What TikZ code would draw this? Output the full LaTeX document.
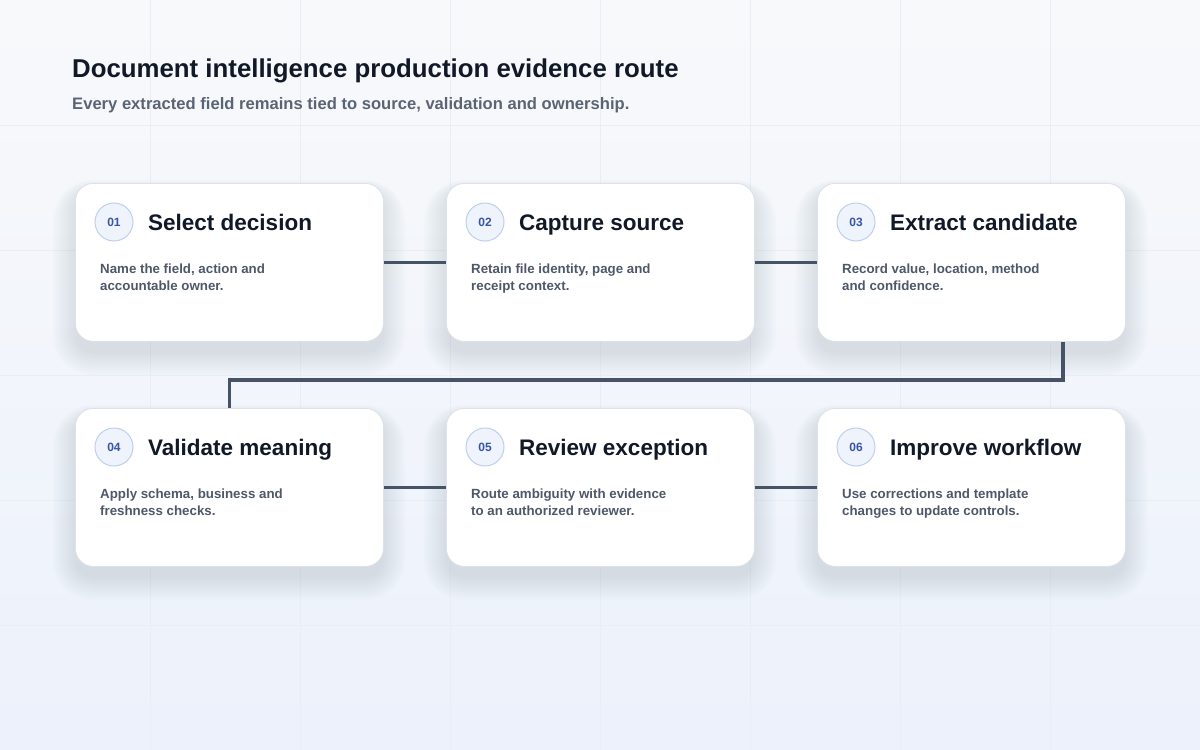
\documentclass[tikz,border=0pt]{standalone}
\usepackage{fontspec}
\setmainfont{Liberation Sans}
\definecolor{bgtop}{HTML}{F8F9FB}
\definecolor{bgbot}{HTML}{ECF1FB}
\definecolor{gridc}{HTML}{E9EDF4}
\definecolor{ink}{HTML}{111827}
\definecolor{subink}{HTML}{5B6474}
\definecolor{descink}{HTML}{4F5869}
\definecolor{numink}{HTML}{3656A6}
\definecolor{numfill}{HTML}{EEF3FC}
\definecolor{numline}{HTML}{BFCFEC}
\definecolor{cardline}{HTML}{DDE2EA}
\definecolor{shadowc}{HTML}{8591B0}
\definecolor{linkc}{HTML}{465366}
\begin{document}
\begin{tikzpicture}[x=1pt,y=-1pt,font=\bfseries,
    card/.style={draw=cardline,line width=0.8pt,fill=white,rounded corners=18pt,
        minimum width=308pt,minimum height=158pt,inner sep=0pt,anchor=north west},
    badge/.style={circle,draw=numline,line width=1pt,fill=numfill,minimum size=38pt,inner sep=0pt,
        text=numink,font=\bfseries\fontsize{12}{14}\selectfont},
    cardtitle/.style={anchor=base west,inner sep=0pt,text=ink,font=\bfseries\fontsize{22.5}{26}\selectfont},
    carddesc/.style={anchor=base west,inner sep=0pt,align=left,text=descink,font=\bfseries\fontsize{13.3}{17}\selectfont},
    link/.style={draw=linkc,line width=3.5pt}]
    \def\cw{308} \def\ch{158}
    \useasboundingbox (0,0) rectangle (1200,750);
    \shade[top color=bgtop,bottom color=bgbot] (0,0) rectangle (1200,750);
    \foreach \gx in {150,300,...,1050}\draw[gridc,line width=0.8pt] (\gx,0)--(\gx,750);
    \foreach \gy in {125,250,...,625}\draw[gridc,line width=0.8pt] (0,\gy)--(1200,\gy);
    %===========================================
    \node[anchor=base west,inner sep=0pt,text=ink,font=\bfseries\fontsize{25.8}{30}\selectfont] (title) at (72,77)
        {Document intelligence production evidence route};
    \node[anchor=base west,inner sep=0pt,text=subink,font=\bfseries\fontsize{16.6}{20}\selectfont] (subtitle) at (72,109)
        {Every extracted field remains tied to source, validation and ownership.};
    %===========================================
    \foreach \n/\x/\y/\t/\d in {
        1/75/183/{Select decision}/{Name the field, action and\\accountable owner.},
        2/446/183/{Capture source}/{Retain file identity, page and\\receipt context.},
        3/817/183/{Extract candidate}/{Record value, location, method\\and confidence.},
        4/75/408/{Validate meaning}/{Apply schema, business and\\freshness checks.},
        5/446/408/{Review exception}/{Route ambiguity with evidence\\to an authorized reviewer.},
        6/817/408/{Improve workflow}/{Use corrections and template\\changes to update controls.}}{
        % soft shadow
        \foreach \k in {0,...,11}{
            \pgfmathsetmacro\r{18+2*\k}
            \fill[shadowc,opacity=0.02,rounded corners=\r pt]
                (\x-2*\k,\y+8-\k) rectangle (\x+\cw+2*\k,\y+\ch+12+2*\k);
        }
        \node[card] (c\n) at (\x,\y) {};
        \node[badge] (n\n) at ([xshift=39pt,yshift=-39pt]c\n.north west) {0\n};
        \node[cardtitle] (t\n) at ([xshift=73pt,yshift=-47pt]c\n.north west) {\t};
        \node[carddesc] (d\n) at ([xshift=25pt,yshift=-107pt]c\n.north west) {\d};
    }
    %===========================================
    \draw[link] (c1.east)--(c2.west);
    \draw[link] (c2.east)--(c3.west);
    \draw[link] ([xshift=91.5pt]c3.south)--++(0,38)-|(c4.north);
    \draw[link] (c4.east)--(c5.west);
    \draw[link] (c5.east)--(c6.west);
\end{tikzpicture}
\end{document}
